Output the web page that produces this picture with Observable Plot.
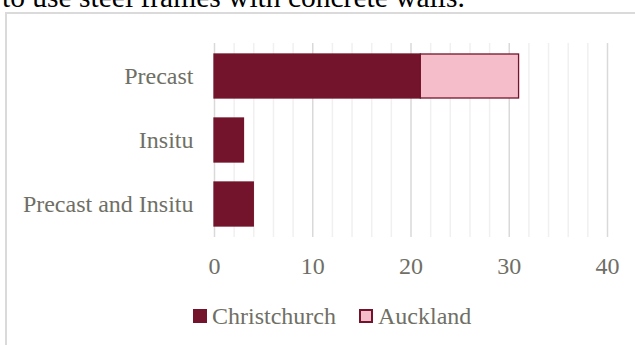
<!DOCTYPE html>
<html>
<head>
<meta charset="utf-8">
<script src="https://cdn.jsdelivr.net/npm/d3@7"></script>
<script src="https://cdn.jsdelivr.net/npm/@observablehq/plot@0.6"></script>
<style>
  html, body { margin: 0; padding: 0; background: #fff; overflow: hidden; }
  body { width: 635px; height: 345px; position: relative; font-family: "Liberation Serif", "Times New Roman", serif; }
  #title { position: absolute; left: 2px; top: -17px; font-size: 29.5px; color: #000; white-space: nowrap; line-height: 29px; }
  #frame { position: absolute; left: 5px; top: 12px; width: 640px; height: 340px; border-top: 2px solid #dadada; border-left: 2px solid #dadada; box-sizing: border-box; }
  #chart { position: absolute; left: 6px; top: 13px; }
  #legend { position: absolute; top: 302px; left: 0; width: 635px; font-size: 24px; color: #6f6f66; }
  .item { position: absolute; display: flex; align-items: center; white-space: nowrap; height: 28px; }
  .sw { width: 10px; height: 10px; margin-right: 5px; border: 2px solid #73142c; }
</style>
</head>
<body>
<div id="title">to use steel frames with concrete walls.</div>
<div id="frame"></div>
<div id="chart"></div>
<div id="legend"></div>
<script>
const categories = ["Precast", "Insitu", "Precast and Insitu"];
const seriesNames = ["Christchurch", "Auckland"];
const christchurch = [21, 3, 4];
const auckland = [10, 0, 0];
const xTicks = [0, 10, 20, 30, 40];
const minorTicks = [2, 4, 6, 8, 12, 14, 16, 18, 22, 24, 26, 28, 32, 34, 36, 38];
const colors = ["#73142c", "#f5bdca"];

const rows = [];
categories.forEach((c, i) => {
  rows.push({category: c, series: seriesNames[0], value: christchurch[i]});
  if (auckland[i] > 0) rows.push({category: c, series: seriesNames[1], value: auckland[i]});
});

const W = 629, H = 290;
const plot = Plot.plot({
  width: W,
  height: H,
  marginLeft: 208,
  marginRight: 28,
  marginTop: 30,
  marginBottom: H - 224,
  style: {fontFamily: "'Liberation Serif', 'Times New Roman', serif", fontSize: "24px", color: "#6f6f66", background: "transparent"},
  x: {domain: [0, 40], ticks: xTicks, label: null, tickSize: 0, tickPadding: 19, tickFormat: d => String(d)},
  y: {domain: categories, label: null, tickSize: 0, tickPadding: 21, paddingInner: 0.32, paddingOuter: 0.155},
  color: {domain: seriesNames, range: colors},
  marks: [
    Plot.ruleX(minorTicks, {stroke: "#f0f0f0", strokeWidth: 1.5}),
    Plot.ruleX(xTicks, {stroke: "#d9d9d9", strokeWidth: 1.5}),
    Plot.barX(rows, Plot.stackX({x: "value", y: "category", fill: "series", stroke: "#73142c", strokeWidth: 1.3, inset: 0, order: seriesNames})),
  ]
});
document.getElementById("chart").appendChild(plot);

const legend = document.getElementById("legend");
const lx = [193, 359];
seriesNames.forEach((s, i) => {
  const it = document.createElement("div");
  it.className = "item";
  it.style.left = lx[i] + "px";
  const sw = document.createElement("span");
  sw.className = "sw";
  sw.style.background = colors[i];
  it.appendChild(sw);
  const t = document.createElement("span");
  t.textContent = s;
  it.appendChild(t);
  legend.appendChild(it);
});
</script>
</body>
</html>
